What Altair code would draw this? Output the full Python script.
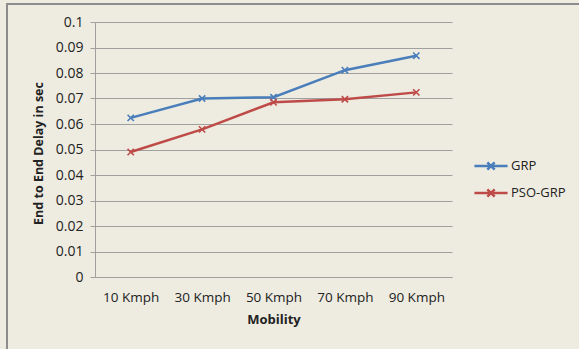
import altair as alt
import pandas as pd

categories = ["10 Kmph", "30 Kmph", "50 Kmph", "70 Kmph", "90 Kmph"]
grp = [0.0624, 0.0700, 0.0705, 0.0811, 0.0868]
pso_grp = [0.0490, 0.0579, 0.0685, 0.0697, 0.0724]
series = ["GRP", "PSO-GRP"]
colors = ["#4A7EBB", "#BE4B48"]

rows = []
for c, v in zip(categories, grp):
    rows.append({"Mobility": c, "Series": "GRP", "Delay": v})
for c, v in zip(categories, pso_grp):
    rows.append({"Mobility": c, "Series": "PSO-GRP", "Delay": v})
df = pd.DataFrame(rows)

FONT = "Open Sans"
BG = "#EEECE1"
XSHAPE = "M-1,-1L1,1M-1,1L1,-1"

x_enc = alt.X(
    "Mobility:N", sort=categories, title="Mobility",
    scale=alt.Scale(paddingInner=0, paddingOuter=0.5),
    axis=alt.Axis(labelAngle=0, ticks=False, domain=True, domainColor="#A0A0A0",
                  labelFont=FONT, labelFontSize=13.5, labelColor="#222222", labelPadding=13,
                  titleFont=FONT, titleFontSize=13, titleFontWeight="bold", titleColor="#222222",
                  titlePadding=10, grid=False),
)
y_enc = alt.Y(
    "Delay:Q", title="End to End Delay in sec",
    scale=alt.Scale(domain=[0, 0.1], nice=False),
    axis=alt.Axis(values=[i / 100 for i in range(11)], format="~g", grid=True, gridColor="#A0A0A0",
                  gridWidth=1, domainColor="#A0A0A0", tickColor="#A0A0A0", tickSize=5,
                  labelFont=FONT, labelFontSize=14, labelColor="#222222", labelPadding=7,
                  titleFont=FONT, titleFontSize=12.5, titleFontWeight="bold", titleColor="#222222",
                  titleX=-57, titleY=131, titleAlign="center", titleBaseline="middle", titleAngle=270),
)
color_enc = alt.Color(
    "Series:N", scale=alt.Scale(domain=series, range=colors),
    legend=alt.Legend(title=None, orient="none", legendX=378, legendY=126,
                      symbolType="M-1,0L1,0M-0.22,-0.22L0.22,0.22M-0.22,0.22L0.22,-0.22",
                      symbolSize=1100, symbolStrokeWidth=2.5, symbolFillColor="transparent",
                      labelFont=FONT, labelFontSize=13, labelColor="#222222",
                      rowPadding=-4, labelOffset=2),
)

border = pd.DataFrame({"a": [0]})
left_rule = alt.Chart(border).mark_rule(stroke="#8C8C8C", strokeWidth=2).encode(
    x=alt.value(-88), y=alt.value(-18), y2=alt.value(330))
top_rule = alt.Chart(border).mark_rule(stroke="#8C8C8C", strokeWidth=2).encode(
    x=alt.value(-89), x2=alt.value(490), y=alt.value(-18))

lines = alt.Chart(df).mark_line(strokeWidth=2.5).encode(x=x_enc, y=y_enc, color=color_enc)
points = alt.Chart(df).mark_point(shape=XSHAPE, size=40, strokeWidth=1.6, filled=False, opacity=1).encode(
    x=x_enc, y=y_enc, color=alt.Color("Series:N", scale=alt.Scale(domain=series, range=colors), legend=None)
)

chart = alt.layer(left_rule, top_rule, lines, points).properties(
    width=357, height=255,
    autosize=alt.AutoSizeParams(type="none"),
    padding={"left": 95, "top": 22, "right": 127, "bottom": 72},
    background=BG,
).configure_view(stroke=None)

chart.save("out.html", embed_options={"renderer": "svg", "actions": False})
